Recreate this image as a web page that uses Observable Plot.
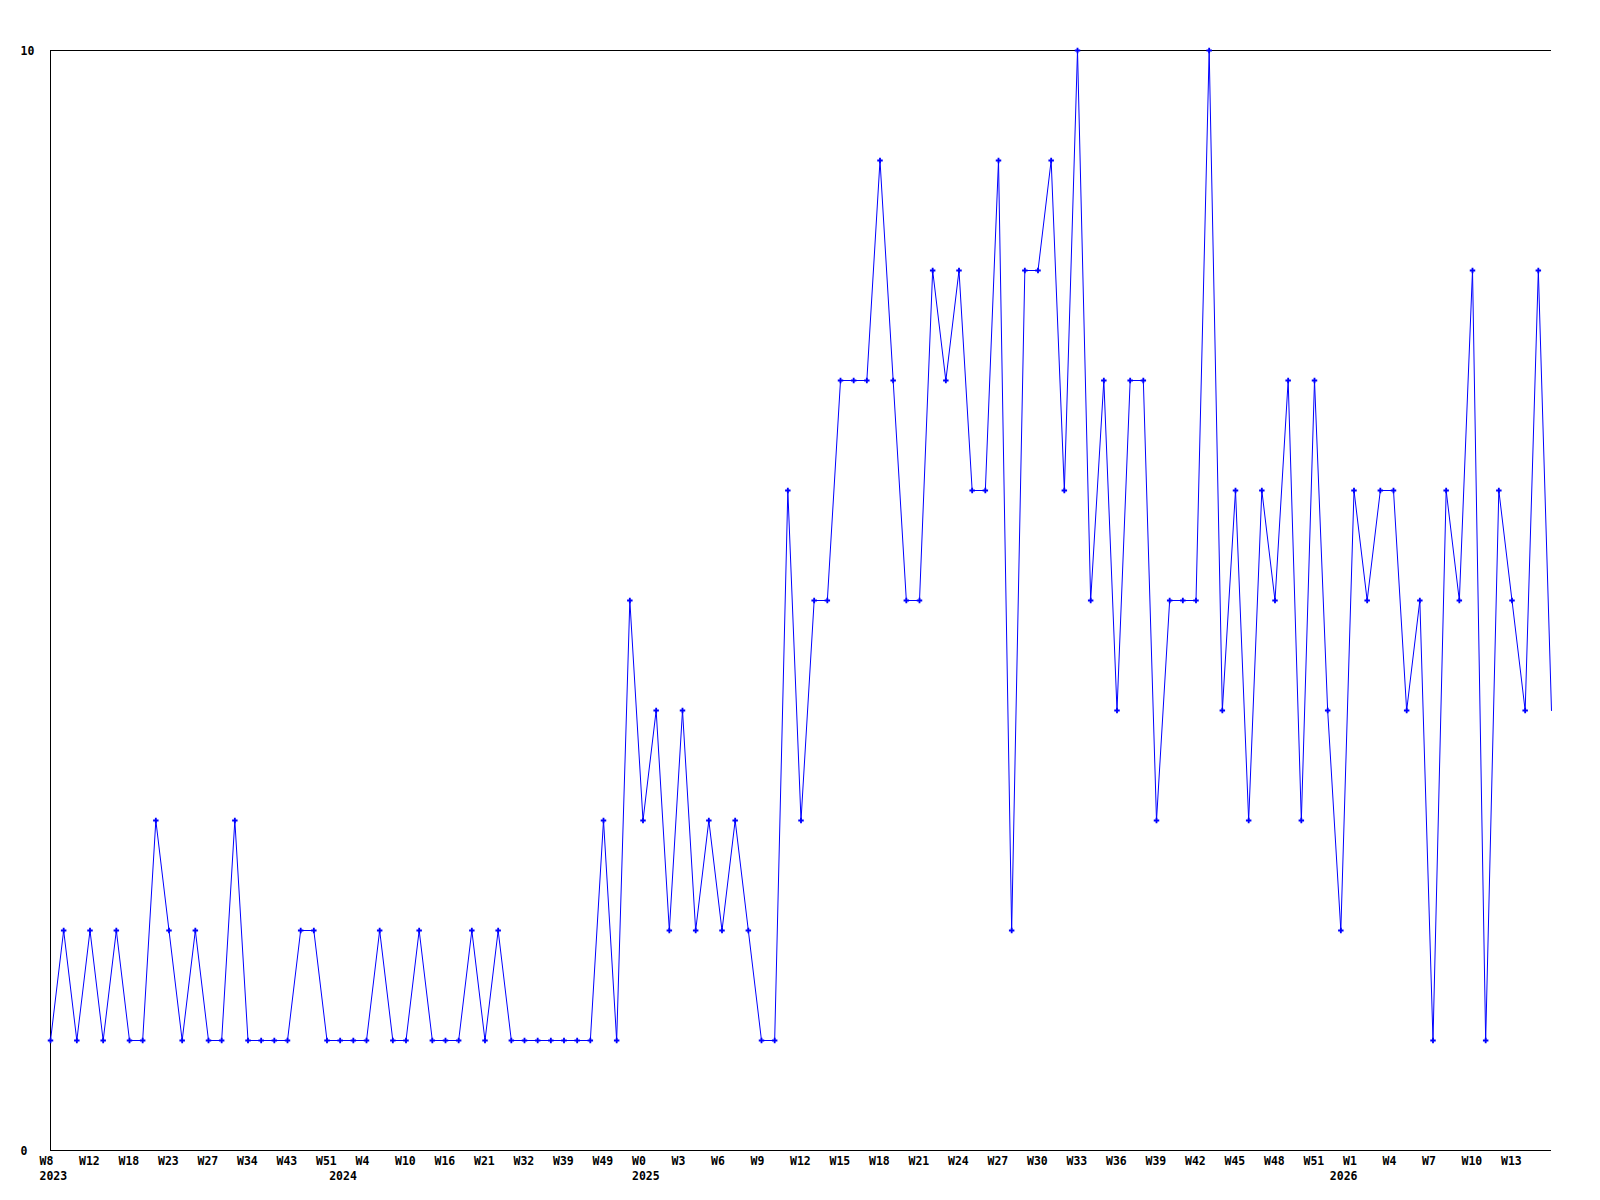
<!DOCTYPE html>
<html>
<head>
<meta charset="utf-8">
<script src="https://cdn.jsdelivr.net/npm/d3@7"></script>
<script src="https://cdn.jsdelivr.net/npm/@observablehq/plot@0.6"></script>
<style>
  html, body { margin: 0; padding: 0; background: #ffffff; }
  #chart svg { display: block; }
</style>
</head>
<body>
<div id="chart"></div>
<script>
// Weekly counts, one per observed week (in order)
const values = [
  1,2,1,2,1,2,1,1,3,2,
  1,2,1,1,3,1,1,1,1,2,
  2,1,1,1,1,2,1,1,2,1,
  1,1,2,1,2,1,1,1,1,1,
  1,1,3,1,5,3,4,2,4,2,
  3,2,3,2,1,1,6,3,5,5,
  7,7,7,9,7,5,5,8,7,8,
  6,6,9,2,8,8,9,6,10,5,
  7,4,7,7,3,5,5,5,10,4,
  6,3,6,5,7,3,7,4,2,6,
  5,6,6,4,5,1,6,5,8,1,
  6,5,4,8,4
];

// Week tick labels, shown on every third observed week
const weekTicks = [
  "W8","W12","W18","W23","W27","W34","W43","W51",
  "W4","W10","W16","W21","W32","W39","W49",
  "W0","W3","W6","W9","W12","W15","W18","W21","W24","W27","W30","W33","W36","W39","W42","W45","W48","W51",
  "W1","W4","W7","W10","W13"
];
const tickStep = 3;

// Year labels at the first observed week of each year
const yearIndex = [0, 22, 45, 98];
const yearNames = ["2023", "2024", "2025", "2026"];

// Y axis labels
const yTicks = [0, 10];

const data = values.map((v, i) => ({i, v}));
const weekData = weekTicks.map((t, k) => ({i: k * tickStep, t}));
const yearData = yearNames.map((t, k) => ({i: yearIndex[k], t}));

const blue = "#0000ff";
const font = "'DejaVu Sans Mono', 'Liberation Mono', monospace";

const chart = Plot.plot({
  width: 1600,
  height: 1200,
  marginLeft: 50,
  marginRight: 49,
  marginTop: 50,
  marginBottom: 50,
  x: {domain: [0, values.length - 1], axis: null},
  y: {domain: [0, 10], axis: null},
  style: {background: "#ffffff", fontFamily: font, fontSize: "11.5px", fontWeight: "bold", color: "black"},
  marks: [
    Plot.ruleY(yTicks, {stroke: "black", strokeWidth: 1}),
    Plot.ruleX([0], {stroke: "black", strokeWidth: 1}),
    Plot.line(data, {x: "i", y: "v", stroke: blue, strokeWidth: 1}),
    Plot.dot(data.slice(0, -1), {x: "i", y: "v", symbol: "cross", r: 2.3, fill: blue, stroke: "none"}),
    Plot.text(weekData, {x: "i", text: "t", frameAnchor: "bottom", dy: 14, dx: -11, textAnchor: "start", fill: "black", fontWeight: "bold"}),
    Plot.text(yearData, {x: "i", text: "t", frameAnchor: "bottom", dy: 29, dx: -11, textAnchor: "start", fill: "black", fontWeight: "bold"}),
    Plot.text(yTicks, {y: d => d, text: d => String(d), frameAnchor: "left", dx: -30, dy: 1, textAnchor: "start", fill: "black", fontWeight: "bold"})
  ]
});

document.getElementById("chart").appendChild(chart);
</script>
</body>
</html>
